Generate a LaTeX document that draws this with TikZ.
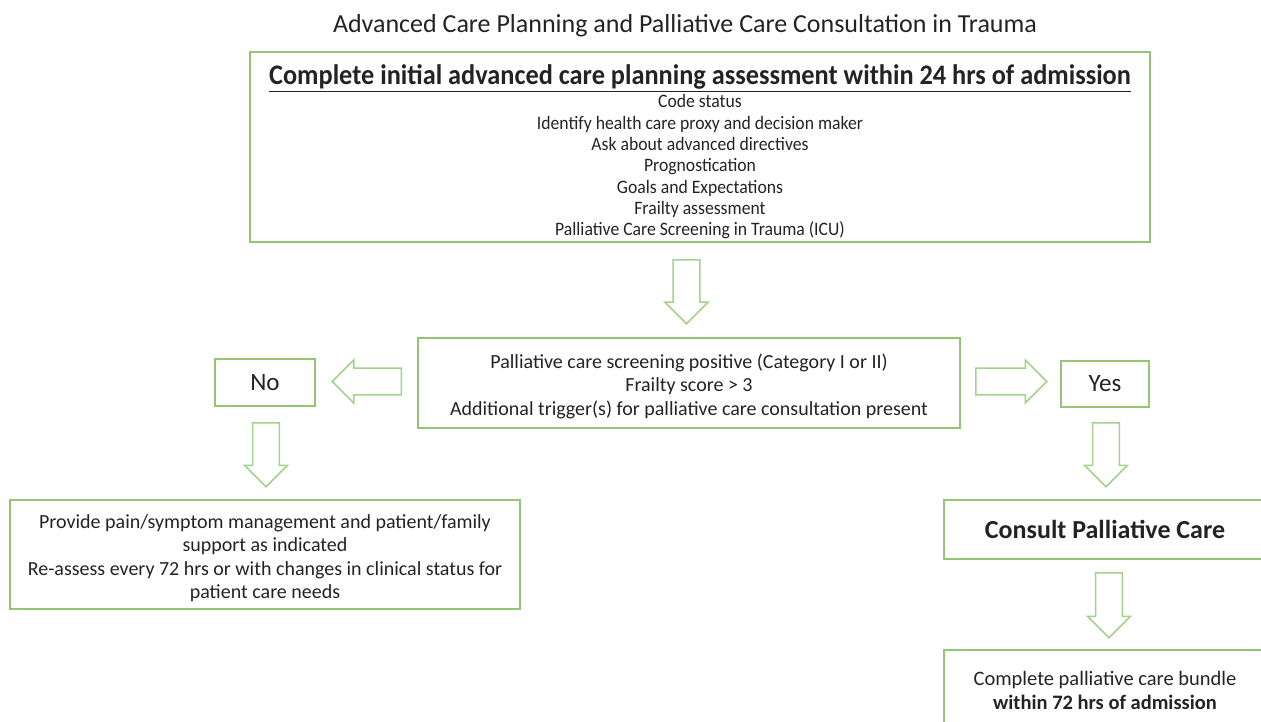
\documentclass[tikz,border=0pt]{standalone}
\usepackage{fontspec}
\setmainfont{Carlito}
\newfontfamily\narrowfont[FakeStretch=0.93]{Carlito}
\usetikzlibrary{shapes.arrows,positioning}
\definecolor{boxgreen}{RGB}{146,198,116}
\definecolor{arrowgreen}{RGB}{163,210,140}
\definecolor{textgray}{RGB}{35,35,35}
\newcommand{\highstrut}[1]{\rule{0pt}{#1}}

\begin{document}
\begin{tikzpicture}[x=1pt,y=-1pt,
    box/.style={draw=boxgreen,line width=2pt,text=textgray,align=center,inner sep=0pt},
    blockarrow/.style={single arrow,draw=arrowgreen,line width=1.5pt,inner xsep=0pt,inner ysep=11pt,
      minimum width=43pt,single arrow tip angle=90,anchor=tail}]
  \useasboundingbox (0,0) rectangle (1261,722);
  \clip (0,0) rectangle (1261,722);

  \node[text=textgray,font=\fontsize{26}{30}\selectfont] (title) at (685,26)
    {Advanced Care Planning and Palliative Care Consultation in Trauma};

  % initial assessment
  \node[box,minimum width=900pt,minimum height=190pt,font=\narrowfont\fontsize{19}{21.3}\selectfont] (assess) at (700,147)
    {\highstrut{29.5pt}{\fontsize{28.3}{30}\selectfont\bfseries\underline{Complete initial advanced care planning assessment within 24 hrs of admission}}\\[2pt]
     Code status\\
     Identify health care proxy and decision maker\\
     Ask about advanced directives\\
     Prognostication\\
     Goals and Expectations\\
     Frailty assessment\\
     Palliative Care Screening in Trauma (ICU)};

  \node[box,minimum width=542pt,minimum height=90pt,font=\fontsize{20}{23.5}\selectfont] (screen) at (689,383)
    {\highstrut{21pt}Palliative care screening positive (Category I or II)\\
     Frailty score > 3\\
     Additional trigger(s) for palliative care consultation present};

  \node[box,minimum width=100pt,minimum height=47pt,font=\fontsize{25}{28}\selectfont] (no) at (265,382.5) {No};
  \node[box,minimum width=88pt,minimum height=46pt,font=\fontsize{25}{28}\selectfont] (yes) at (1105,384) {Yes};

  \node[box,minimum width=510pt,minimum height=109pt,font=\fontsize{20}{23.5}\selectfont] (support) at (265,554.5)
    {\highstrut{21pt}Provide pain/symptom management and patient/family\\
     support as indicated\\
     Re-assess every 72 hrs or with changes in clinical status for\\
     patient care needs};

  \node[box,minimum width=322pt,minimum height=59pt,font=\fontsize{26}{30}\selectfont\bfseries] (consult) at (1105,529.5)
    {Consult Palliative Care};

  \node[box,minimum width=322pt,minimum height=80pt,font=\fontsize{20.5}{24}\selectfont] (bundle) at (1105,690)
    {Complete palliative care bundle\\
     \textbf{within 72 hrs of admission}};

  % block arrows
  \node[blockarrow,rotate=-90,minimum height=64pt] (toscreen) at (686.5,259) {};
  \node[blockarrow,rotate=180,minimum height=69pt] (tono) at (402,381.5) {};
  \node[blockarrow,minimum height=71pt] (toyes) at (975,381.5) {};
  \node[blockarrow,rotate=-90,minimum height=64pt] (tosupport) at (266,422) {};
  \node[blockarrow,rotate=-90,minimum height=64pt] (toconsult) at (1106,422) {};
  \node[blockarrow,rotate=-90,minimum height=65pt] (tobundle) at (1109,572) {};
\end{tikzpicture}
\end{document}
